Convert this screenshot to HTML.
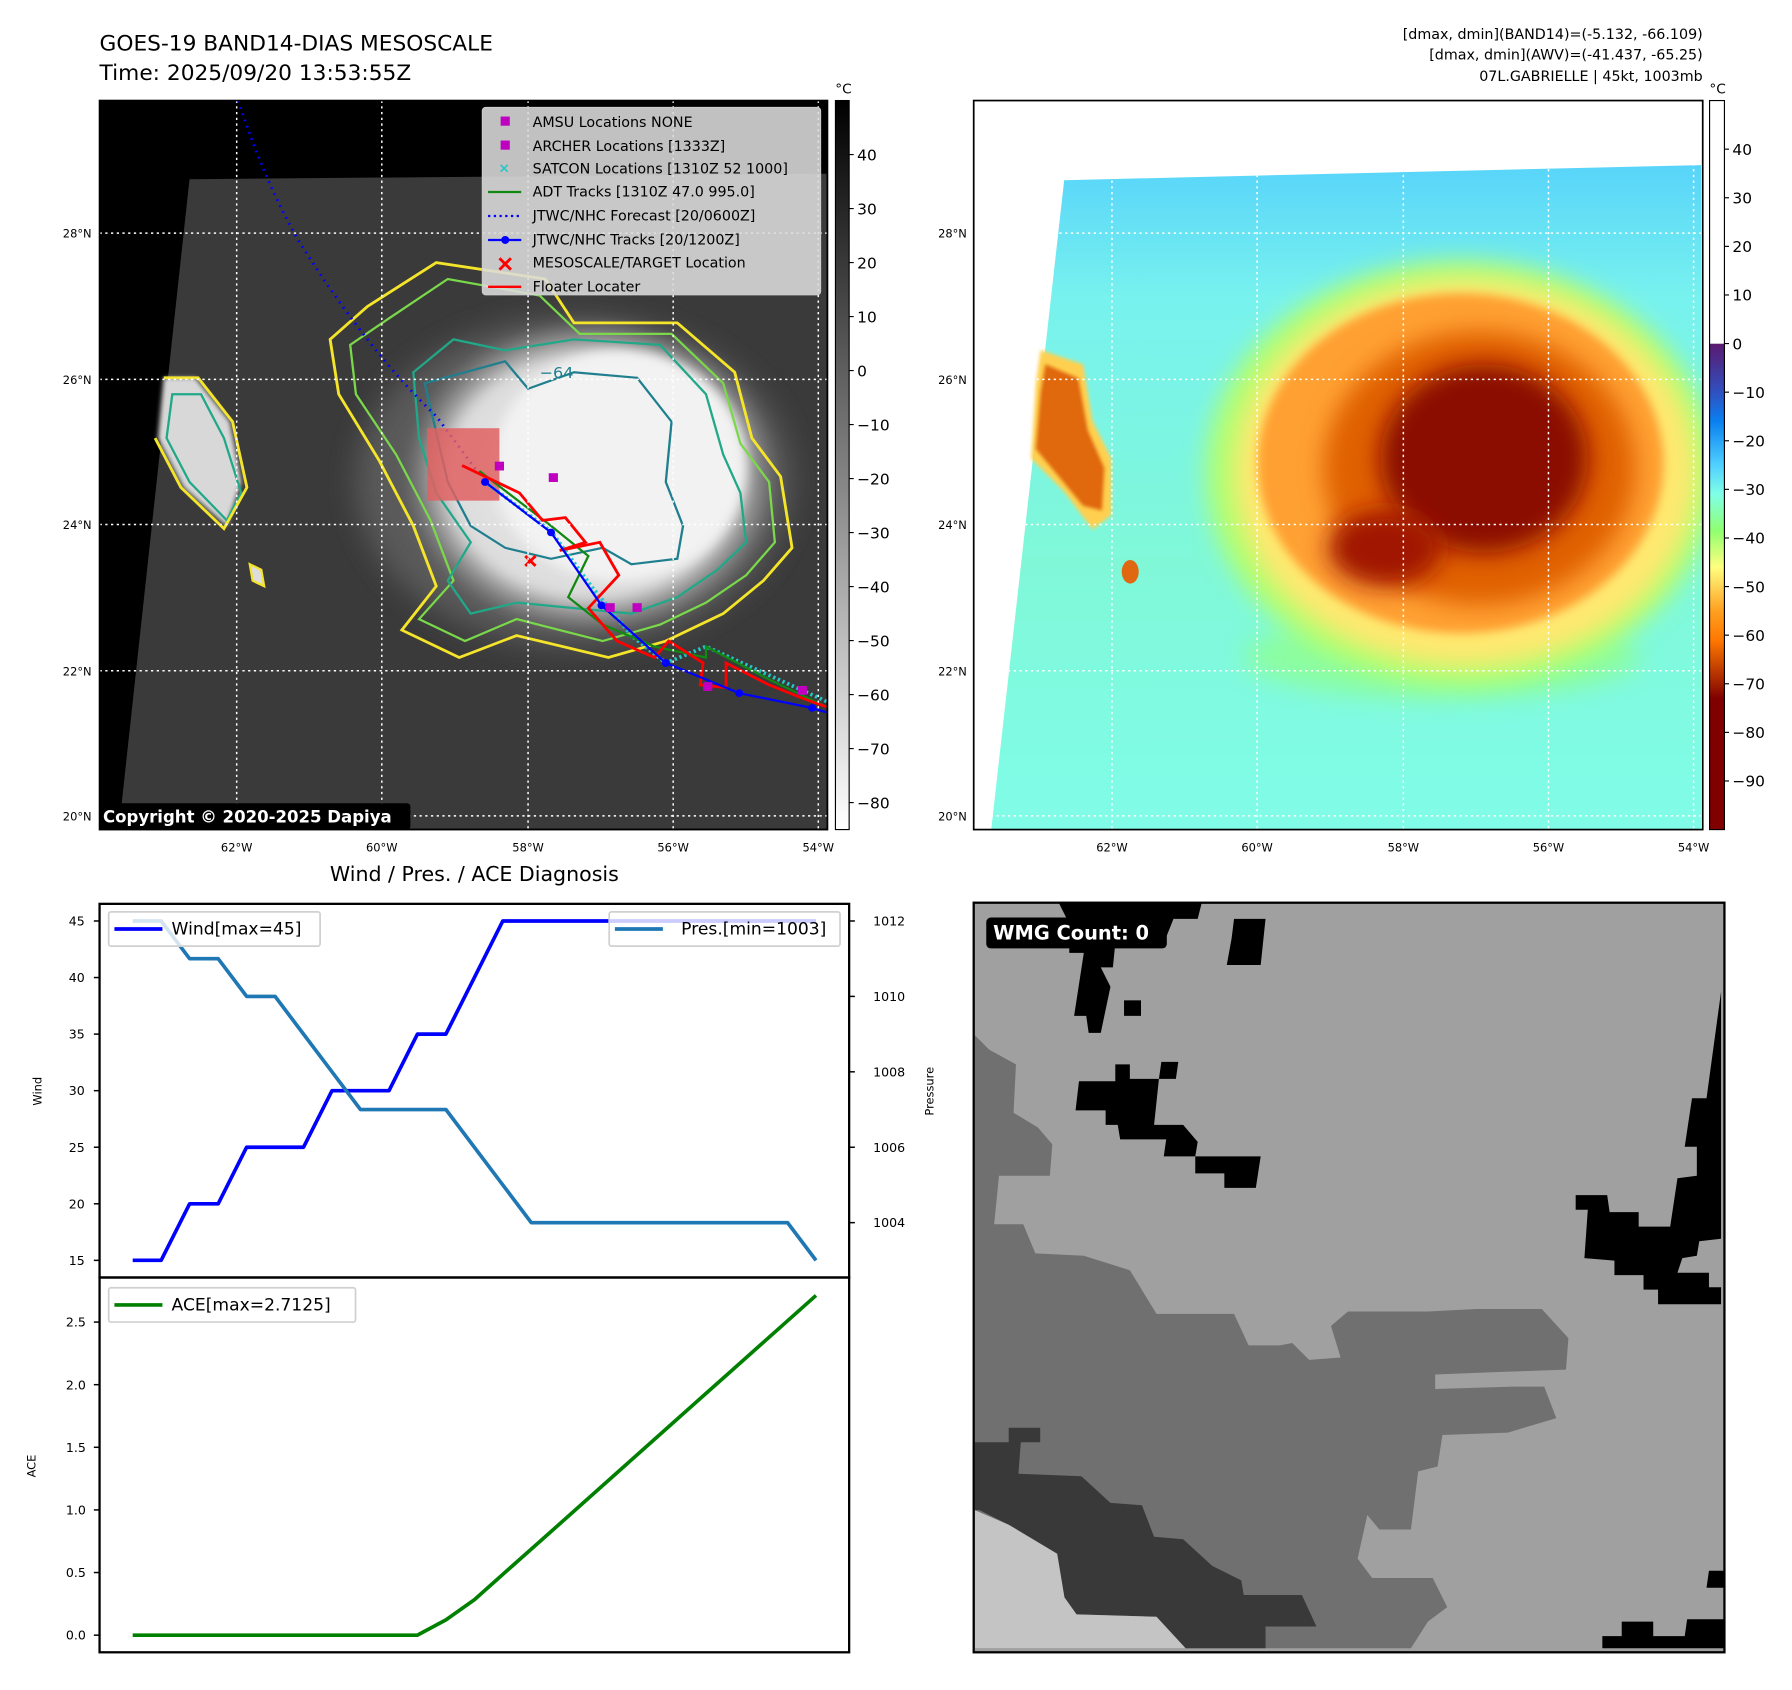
<!DOCTYPE html>
<html><head><meta charset="utf-8"><style>
html,body{margin:0;padding:0;background:#fff;}
svg{display:block;font-family:"DejaVu Sans","Liberation Sans",sans-serif;}
</style></head><body>
<svg id="fig" width="1792" height="1690" viewBox="0 0 1568 1479" xmlns="http://www.w3.org/2000/svg">
<defs>
<filter id="b4" x="-20%" y="-20%" width="140%" height="140%"><feGaussianBlur stdDeviation="4"/></filter>
<filter id="b10" x="-30%" y="-30%" width="160%" height="160%"><feGaussianBlur stdDeviation="10"/></filter>
<filter id="b25" x="-40%" y="-40%" width="180%" height="180%"><feGaussianBlur stdDeviation="25"/></filter>
<linearGradient id="cbL" x1="0" y1="0" x2="0" y2="1"><stop offset="0" stop-color="#000"/><stop offset="1" stop-color="#fff"/></linearGradient>
<linearGradient id="cbR" x1="0" y1="0" x2="0" y2="1">
<stop offset="0" stop-color="#fff"/><stop offset="0.333" stop-color="#fff"/>
<stop offset="0.334" stop-color="#5a1a70"/><stop offset="0.40" stop-color="#3050c0"/><stop offset="0.44" stop-color="#0a80f0"/>
<stop offset="0.50" stop-color="#50d0ff"/><stop offset="0.54" stop-color="#80ffe8"/><stop offset="0.59" stop-color="#90ff70"/>
<stop offset="0.64" stop-color="#ffff80"/><stop offset="0.70" stop-color="#ffa020"/><stop offset="0.74" stop-color="#ff7800"/>
<stop offset="0.80" stop-color="#a02000"/><stop offset="0.82" stop-color="#800000"/><stop offset="1" stop-color="#800000"/></linearGradient>
<radialGradient id="storm" cx="0.5" cy="0.5" r="0.5"><stop offset="0" stop-color="#f0f0f0"/><stop offset="0.75" stop-color="#dcdcdc"/><stop offset="1" stop-color="#a0a0a0" stop-opacity="0"/></radialGradient>
<linearGradient id="bgR" x1="0" y1="0" x2="0" y2="1"><stop offset="0" stop-color="#58d4fa"/><stop offset="0.2" stop-color="#78f2ee"/><stop offset="0.6" stop-color="#80f8d8"/><stop offset="1" stop-color="#80fce8"/></linearGradient>
<clipPath id="clipL"><rect x="87" y="88" width="637" height="638"/></clipPath>
<clipPath id="clipR"><rect x="852" y="88" width="638" height="638"/></clipPath>
<clipPath id="clipBR"><rect x="852" y="790" width="657" height="656"/></clipPath>
</defs>

<!-- titles -->
<text x="87" y="44" font-size="19">GOES-19 BAND14-DIAS MESOSCALE</text>
<text x="87" y="70" font-size="19">Time: 2025/09/20 13:53:55Z</text>
<g font-size="12.5" text-anchor="end">
<text x="1490" y="34">[dmax, dmin](BAND14)=(-5.132, -66.109)</text>
<text x="1490" y="52">[dmax, dmin](AWV)=(-41.437, -65.25)</text>
<text x="1490" y="71">07L.GABRIELLE | 45kt, 1003mb</text>
</g>

<!-- LEFT MAP -->
<g clip-path="url(#clipL)">
<rect x="87" y="88" width="637" height="638" fill="#000"/>
<g transform="matrix(0.5022,0,0,0.480,0,-0.6)">
<polygon points="330,328 1440,318 1440,1512 207,1512" fill="#3a3a3a"/>
<ellipse cx="1000" cy="880" rx="380" ry="300" fill="#5a5a5a" filter="url(#b25)"/>
<ellipse cx="1030" cy="870" rx="330" ry="290" fill="url(#storm)" filter="url(#b10)"/>
<ellipse cx="1080" cy="850" rx="220" ry="210" fill="#f2f2f2" filter="url(#b10)"/>
<path d="M285,690 L340,690 L400,770 L420,880 L395,960 L320,890 L275,800 Z" fill="#d8d8d8" filter="url(#b4)"/>
<path d="M575,620 L640,560 L760,480 L950,510 L1000,590 L1180,590 L1280,680 L1310,800 L1360,870 L1380,1000 L1330,1060 L1260,1120 L1160,1170 L1060,1200 L900,1160 L800,1200 L700,1150 L760,1070 L720,960 L660,840 L590,720 Z" fill="none" stroke="#f5e52a" stroke-width="5"/>
<path d="M610,630 L680,580 L780,510 L940,540 L1010,610 L1170,610 L1260,700 L1290,810 L1340,880 L1350,990 L1300,1050 L1230,1100 L1150,1140 L1050,1170 L900,1130 L810,1170 L730,1130 L790,1060 L750,950 L690,830 L620,720 Z" fill="none" stroke="#7ad84a" stroke-width="4"/>
<path d="M720,680 L790,620 L880,640 L1000,620 L1150,630 L1230,720 L1260,830 L1290,900 L1300,990 L1250,1040 L1180,1090 L1100,1120 L1000,1110 L900,1100 L820,1120 L780,1060 L820,990 L760,900 L730,800 Z" fill="none" stroke="#20a888" stroke-width="4"/>
<path d="M740,700 L880,660 L920,710 L1000,680 L1110,690 L1170,770 L1160,880 L1190,960 L1180,1020 L1100,1030 L1050,1000 L960,1020 L880,1000 L820,960 L780,880 L760,790 Z" fill="none" stroke="#1f7f8f" stroke-width="4"/>
<path d="M300,720 L350,720 L390,800 L420,900 L395,950 L330,880 L290,800 Z" fill="none" stroke="#20a888" stroke-width="4"/>
<path d="M285,690 L345,690 L405,770 L430,890 L390,965 L315,890 L270,800" fill="none" stroke="#f5e52a" stroke-width="5"/>
<path d="M435,1030 L455,1040 L460,1070 L440,1060 Z" fill="#ddd" stroke="#f5e52a" stroke-width="4"/>
<text x="940" y="690" font-size="28" fill="#1f7f8f">−64</text>
<!-- tracks -->
<path d="M415,185 Q460,330 520,440 Q640,640 760,760 L845,880" fill="none" stroke="#0000ff" stroke-width="5" stroke-dasharray="3,9"/>
<rect x="744" y="782" width="126" height="132" fill="#e06060" fill-opacity="0.85"/>
<path d="M845,880 L960,970 L1030,1070 L1100,1160 L1160,1210 L1230,1180 L1440,1280" fill="none" stroke="#20c8c8" stroke-width="7" stroke-dasharray="4,5"/>
<path d="M835,860 L960,960 L1025,1015 L990,1090 L1050,1140 L1140,1180 L1230,1200 L1230,1180 L1340,1240 L1440,1290" fill="none" stroke="#118811" stroke-width="4"/>
<path d="M805,850 L845,870 L905,900 L945,950 L985,945 L1020,990 L975,1005 L1045,990 L1078,1050 L1025,1110 L1075,1170 L1140,1200 L1165,1170 L1225,1210 L1220,1250 L1265,1255 L1265,1210 L1340,1250 L1400,1275 L1440,1290" fill="none" stroke="#ff0000" stroke-width="5"/>
<path d="M845,880 L960,972 L1048,1105 L1160,1210 L1288,1265 L1415,1292 L1440,1300" fill="none" stroke="#0000ff" stroke-width="4"/>
<g fill="#0000ff"><circle cx="845" cy="880" r="7"/><circle cx="960" cy="972" r="7"/><circle cx="1048" cy="1105" r="7"/><circle cx="1160" cy="1210" r="7"/><circle cx="1288" cy="1265" r="7"/><circle cx="1415" cy="1292" r="7"/></g>
<g fill="#c000c0"><rect x="862" y="843" width="16" height="16"/><rect x="956" y="864" width="16" height="16"/><rect x="1055" y="1101" width="16" height="16"/><rect x="1102" y="1101" width="16" height="16"/><rect x="1225" y="1245" width="16" height="16"/><rect x="1390" y="1252" width="16" height="16"/></g>
<path d="M915,1015 L933,1033 M933,1015 L915,1033" stroke="#ff0000" stroke-width="5"/>
</g>
<g stroke="#fff" stroke-width="1.3" stroke-dasharray="2,3">
<line x1="207" y1="88" x2="207" y2="726"/><line x1="334" y1="88" x2="334" y2="726"/><line x1="462" y1="88" x2="462" y2="726"/><line x1="589" y1="88" x2="589" y2="726"/><line x1="716" y1="88" x2="716" y2="726"/>
<line x1="87" y1="204" x2="724" y2="204"/><line x1="87" y1="332" x2="724" y2="332"/><line x1="87" y1="459" x2="724" y2="459"/><line x1="87" y1="587" x2="724" y2="587"/><line x1="87" y1="714" x2="724" y2="714"/>
</g>
<g>
<rect x="422" y="94" width="296" height="164" rx="3" fill="#dcdcdc" fill-opacity="0.88" stroke="#ccc"/>
<g font-size="12.5" fill="#000">
<rect x="438" y="102" width="8" height="8" fill="#c000c0"/><text x="466" y="111">AMSU Locations NONE</text>
<rect x="438" y="123" width="8" height="8" fill="#c000c0"/><text x="466" y="132">ARCHER Locations [1333Z]</text>
<text x="436" y="151" fill="#20c8c8" font-size="12" font-weight="bold">×</text><text x="466" y="152">SATCON Locations [1310Z 52 1000]</text>
<line x1="427" y1="168" x2="456" y2="168" stroke="#118811" stroke-width="2"/><text x="466" y="172">ADT Tracks [1310Z 47.0 995.0]</text>
<line x1="427" y1="189" x2="456" y2="189" stroke="#0000ff" stroke-width="2" stroke-dasharray="2,3"/><text x="466" y="193">JTWC/NHC Forecast [20/0600Z]</text>
<line x1="427" y1="210" x2="456" y2="210" stroke="#0000ff" stroke-width="2"/><circle cx="442" cy="210" r="3.5" fill="#0000ff"/><text x="466" y="214">JTWC/NHC Tracks [20/1200Z]</text>
<path d="M437,226 L447,236 M447,226 L437,236" stroke="#ff0000" stroke-width="2.5"/><text x="466" y="234">MESOSCALE/TARGET Location</text>
<line x1="427" y1="251" x2="456" y2="251" stroke="#ff0000" stroke-width="2"/><text x="466" y="255">Floater Locater</text>
</g></g>
<rect x="87" y="703" width="272" height="23" rx="3" fill="#000"/>
<text x="90" y="720" font-size="14.5" font-weight="bold" fill="#fff">Copyright © 2020-2025 Dapiya</text>
</g>
<rect x="87" y="88" width="637" height="638" fill="none" stroke="#000" stroke-width="1.5"/>

<!-- map tick labels -->
<g font-size="10" text-anchor="end">
<text x="80" y="208">28°N</text><text x="80" y="336">26°N</text><text x="80" y="463">24°N</text><text x="80" y="591">22°N</text><text x="80" y="718">20°N</text></g>
<g font-size="10" text-anchor="middle">
<text x="207" y="745">62°W</text><text x="334" y="745">60°W</text><text x="462" y="745">58°W</text><text x="589" y="745">56°W</text><text x="716" y="745">54°W</text></g>

<!-- left colorbar -->
<rect x="731" y="88" width="12" height="638" fill="url(#cbL)" stroke="#000" stroke-width="1"/>
<text x="738" y="82" font-size="12" text-anchor="middle">°C</text>
<g id="cbLticks" font-size="13.5"></g>

<!-- RIGHT MAP -->
<g clip-path="url(#clipR)">
<rect x="852" y="88" width="638" height="638" fill="#fff"/>
<g transform="translate(848.6,87.5) scale(0.4129)">
<polygon points="200,170 1550,138 1550,1550 45,1550" fill="url(#bgR)"/>
<ellipse cx="1000" cy="1180" rx="420" ry="90" fill="#90ff88" filter="url(#b25)" opacity="0.7"/>
<ellipse cx="1040" cy="790" rx="540" ry="450" fill="#b0ff70" filter="url(#b25)"/>
<ellipse cx="1050" cy="790" rx="490" ry="410" fill="#ffe870" filter="url(#b25)"/>
<ellipse cx="1040" cy="770" rx="430" ry="360" fill="#ffa030" filter="url(#b10)"/>
<ellipse cx="1080" cy="780" rx="330" ry="290" fill="#e06000" filter="url(#b25)"/>
<ellipse cx="1090" cy="760" rx="220" ry="200" fill="#8a0a00" filter="url(#b25)"/>
<ellipse cx="880" cy="950" rx="120" ry="80" fill="#a01800" filter="url(#b25)"/>
<path d="M150,530 L240,560 L260,680 L300,760 L300,880 L260,910 L200,830 L130,760 L140,600 Z" fill="#ffd050" filter="url(#b4)"/>
<path d="M160,560 L230,590 L250,700 L285,780 L280,870 L240,860 L190,800 L140,740 L150,620 Z" fill="#e06810" filter="url(#b4)"/>
<ellipse cx="340" cy="1000" rx="18" ry="25" fill="#e06810"/>
</g>
<g stroke="#fff" stroke-width="1.3" stroke-dasharray="2,3">
<line x1="973" y1="88" x2="973" y2="726"/><line x1="1100" y1="88" x2="1100" y2="726"/><line x1="1228" y1="88" x2="1228" y2="726"/><line x1="1355" y1="88" x2="1355" y2="726"/><line x1="1482" y1="88" x2="1482" y2="726"/>
<line x1="852" y1="204" x2="1490" y2="204"/><line x1="852" y1="332" x2="1490" y2="332"/><line x1="852" y1="459" x2="1490" y2="459"/><line x1="852" y1="587" x2="1490" y2="587"/><line x1="852" y1="714" x2="1490" y2="714"/>
</g>
</g>
<rect x="852" y="88" width="638" height="638" fill="none" stroke="#000" stroke-width="1.5"/>
<g font-size="10" text-anchor="end">
<text x="846" y="208">28°N</text><text x="846" y="336">26°N</text><text x="846" y="463">24°N</text><text x="846" y="591">22°N</text><text x="846" y="718">20°N</text></g>
<g font-size="10" text-anchor="middle">
<text x="973" y="745">62°W</text><text x="1100" y="745">60°W</text><text x="1228" y="745">58°W</text><text x="1355" y="745">56°W</text><text x="1482" y="745">54°W</text></g>
<rect x="1496" y="88" width="13" height="638" fill="url(#cbR)" stroke="#000" stroke-width="1"/>
<text x="1503" y="82" font-size="12" text-anchor="middle">°C</text>
<g id="cbRticks" font-size="13.5"></g>

<!-- BOTTOM RIGHT WMG -->
<g clip-path="url(#clipBR)">
<rect x="852" y="790" width="657" height="656" fill="#a0a0a0"/>
<g transform="translate(848.7,783) scale(0.4241)">
<polygon fill="#707070" points="10,290 40,320 95,350 90,450 140,480 170,515 165,580 60,580 50,680 110,680 135,740 235,745 330,775 385,865 545,865 575,930 640,930 665,925 700,960 765,955 745,890 780,860 945,860 1045,855 1180,855 1235,915 1230,980 1090,985 960,990 960,1020 1120,1015 1185,1015 1210,1080 1110,1110 975,1115 965,1180 925,1190 910,1310 845,1310 820,1280 800,1370 830,1410 955,1410 985,1470 945,1500 910,1555 10,1555"/>
<polygon fill="#393939" points="10,1130 80,1130 80,1100 145,1100 145,1130 105,1130 100,1195 230,1200 290,1255 355,1260 380,1325 440,1330 500,1385 560,1415 565,1445 685,1445 715,1510 610,1510 610,1555 445,1555 385,1490 220,1485 195,1450 180,1360 80,1300 20,1270 10,1270"/>
<polygon fill="#c4c4c4" points="10,1270 80,1300 180,1360 195,1450 220,1485 385,1490 445,1555 10,1555"/>
<g fill="#000">
<polygon points="180,10 480,10 470,50 420,50 400,100 300,100 295,150 270,150 290,190 270,285 245,285 240,250 215,250 235,120 205,120 205,60"/>
<polygon points="545,50 610,50 600,145 530,145 540,90"/>
<rect x="318" y="218" width="35" height="32"/>
<polygon points="225,385 300,385 300,350 330,350 330,380 390,380 395,345 430,345 425,380 390,380 380,475 440,475 470,510 465,540 600,540 590,605 525,605 525,575 465,575 465,540 400,540 405,505 310,505 305,475 280,475 280,445 218,445"/>
<polygon points="1250,620 1315,620 1320,655 1380,655 1380,685 1445,685 1460,585 1500,580 1500,520 1475,520 1490,420 1520,420 1550,200 1550,710 1505,715 1500,745 1470,750 1460,780 1525,780 1525,810 1550,810 1550,845 1420,845 1420,815 1390,815 1390,785 1330,785 1330,755 1268,750 1275,650 1250,650"/>
<polygon points="1525,1395 1555,1395 1555,1430 1520,1430"/>
<polygon points="1305,1530 1345,1530 1345,1500 1410,1500 1410,1530 1475,1530 1480,1495 1555,1495 1555,1555 1305,1555"/>
</g>
</g>
<rect x="863" y="803" width="158" height="27" rx="4" fill="#000"/>
<text x="869" y="822" font-size="17" font-weight="bold" fill="#fff">WMG Count: 0</text>
</g>
<rect x="852" y="790" width="657" height="656" fill="none" stroke="#000" stroke-width="2"/>

<!-- BOTTOM LEFT CHART -->
<text x="415" y="771" font-size="18" text-anchor="middle">Wind / Pres. / ACE Diagnosis</text>
<g id="chart"></g>
<text transform="translate(36,955) rotate(-90)" font-size="10" text-anchor="middle">Wind</text>
<text transform="translate(817,955) rotate(-90)" font-size="10" text-anchor="middle">Pressure</text>
<text transform="translate(31,1283) rotate(-90)" font-size="10" text-anchor="middle">ACE</text>
</svg>
<script>
const wind = [15,15,20,20,25,25,25,30,30,30,35,35,40,45,45,45,45,45,45,45,45,45,45,45,45];
const pres = [1012,1012,1011,1011,1010,1010,1009,1008,1007,1007,1007,1007,1006,1005,1004,1004,1004,1004,1004,1004,1004,1004,1004,1004,1003];
const ace = [0,0,0,0,0,0,0,0,0,0,0,0.1225,0.2825,0.485,0.6875,0.89,1.0925,1.295,1.4975,1.7,1.9025,2.105,2.3075,2.51,2.7125];
const windTicks = [15,20,25,30,35,40,45];
const presTicks = [1004,1006,1008,1010,1012];
const aceTicks = ["0.0","0.5","1.0","1.5","2.0","2.5"];
const cbLeftTicks = [40,30,20,10,0,-10,-20,-30,-40,-50,-60,-70,-80];
const cbRightTicks = [40,30,20,10,0,-10,-20,-30,-40,-50,-60,-70,-80,-90];

const NS="http://www.w3.org/2000/svg";
function mk(tag, attrs, parent){const e=document.createElementNS(NS,tag);for(const k in attrs)e.setAttribute(k,attrs[k]);parent.appendChild(e);return e;}
const xS = i => 116 + i*(714-116)/(wind.length-1);
const yW = v => 1103 - (v-15)*(1103-806)/30;
const yP = v => 806 + (1012-v)*(1070-806)/8;
const yA = v => 1431 - v*(1431-1157)/2.5;
const cbL = v => 726 - (v+85)*638/135;
const cbR = v => 726 - (v+100)*638/150;

const ch=document.getElementById('chart');
let f1=mk('rect',{x:87,y:791,width:656,height:327,fill:'none',stroke:'#000','stroke-width':2},ch);


let f2=mk('rect',{x:87,y:1118,width:656,height:328,fill:'none',stroke:'#000','stroke-width':2},ch);



windTicks.forEach(v=>{const y=yW(v);
 mk('line',{x1:82,x2:87,y1:y,y2:y,stroke:'#000','stroke-width':1.3},ch);
 const t=mk('text',{x:74,y:y+4,'font-size':11,'text-anchor':'end'},ch);t.textContent=v;
 
 });
presTicks.forEach(v=>{const y=yP(v);
 mk('line',{x1:743,x2:748,y1:y,y2:y,stroke:'#000','stroke-width':1.3},ch);
 const t=mk('text',{x:764,y:y+4,'font-size':11},ch);t.textContent=v;
 
 });
aceTicks.forEach(s=>{const y=yA(parseFloat(s));
 mk('line',{x1:82,x2:87,y1:y,y2:y,stroke:'#000','stroke-width':1.3},ch);
 const t=mk('text',{x:75,y:y+4,'font-size':11,'text-anchor':'end'},ch);t.textContent=s;
 
 });

function line(arr,yf,color,name){
 const d=arr.map((v,i)=>(i?'L':'M')+xS(i).toFixed(1)+','+yf(v).toFixed(1)).join(' ');
 const p=mk('path',{d:d,fill:'none',stroke:color,'stroke-width':3.2,'stroke-linejoin':'round'},ch);
 
 
}
line(wind,yW,'#0000ff','wind-line');
line(pres,yP,'#1f77b4','pressure-line');
line(ace,yA,'#008000','ace-line');

function legend(x,y,w,color,label,name){
 const g=mk('g',{},ch);
 
 
 mk('rect',{x:x,y:y,width:w,height:30,rx:2,fill:'#fff','fill-opacity':0.8,stroke:'#d0d0d0','stroke-width':1.5},g);
 mk('line',{x1:x+5,x2:x+47,y1:y+15,y2:y+15,stroke:color,'stroke-width':3.2},g);
 const t=mk('text',{x:x+(label.startsWith('Pres')?63:55),y:y+20,'font-size':15},g);t.textContent=label;
}
legend(95,798,185,'#0000ff','Wind[max=45]','wind-legend');
legend(533,798,202,'#1f77b4','Pres.[min=1003]','pressure-legend');
legend(95,1127,216,'#008000','ACE[max=2.7125]','ace-legend');

const gl=document.getElementById('cbLticks');
cbLeftTicks.forEach(v=>{const y=cbL(v);
 mk('line',{x1:743,x2:747,y1:y,y2:y,stroke:'#000'},gl);
 const t=mk('text',{x:750,y:y+5},gl);t.textContent=String(v).replace('-','−');
 
 });
const gr=document.getElementById('cbRticks');
cbRightTicks.forEach(v=>{const y=cbR(v);
 mk('line',{x1:1509,x2:1513,y1:y,y2:y,stroke:'#000'},gr);
 const t=mk('text',{x:1516,y:y+5},gr);t.textContent=String(v).replace('-','−');
 
 });
</script>
</body></html>
